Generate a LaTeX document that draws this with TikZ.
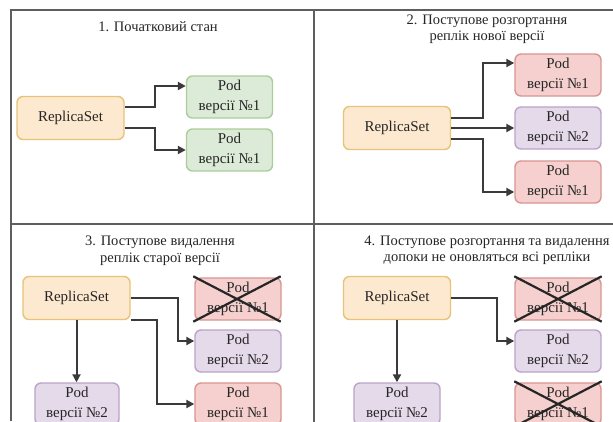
\documentclass[tikz,border=0pt]{standalone}
\usepackage{fontspec}
\setmainfont{Liberation Serif}
\newfontfamily\labelfont{Liberation Serif}
\usetikzlibrary{arrows.meta,calc}

\definecolor{rsfill}{HTML}{FDE9CF}
\definecolor{rsdraw}{HTML}{E6C47A}
\definecolor{gfill}{HTML}{DCEBD7}
\definecolor{gdraw}{HTML}{ACCD9B}
\definecolor{rfill}{HTML}{F5D0CE}
\definecolor{rdraw}{HTML}{D99591}
\definecolor{pfill}{HTML}{E5DAEA}
\definecolor{pdraw}{HTML}{BBA3C9}
\definecolor{framecol}{HTML}{5E5E5E}
\definecolor{txt}{HTML}{262626}
\definecolor{linecol}{HTML}{3A3A3A}

\tikzset{
  box/.style={draw, line width=1.4pt, rounded corners=6pt, align=center,
    font=\labelfont\fontsize{15}{20}\selectfont, text=txt, inner sep=0pt},
  rsbox/.style={box, fill=rsfill, draw=rsdraw, minimum width=107pt, minimum height=43pt},
  podbox/.style={box, minimum width=86pt, minimum height=42pt},
  podold/.style={podbox, fill=gfill, draw=gdraw},
  podred/.style={podbox, fill=rfill, draw=rdraw},
  podnew/.style={podbox, fill=pfill, draw=pdraw},
  title/.style={align=center, font=\labelfont\fontsize{14.5}{16.5}\selectfont, text=txt, inner sep=0pt},
  frame/.style={draw=framecol, line width=2pt},
  arr/.style={draw=linecol, line width=2pt, -{Triangle[length=8pt,width=8pt]}},
  crossline/.style={draw=black!85, line width=2.2pt}
}

\begin{document}
\begin{tikzpicture}[x=1pt,y=-1pt]
\useasboundingbox (0,0) rectangle (613,421);
\clip (0,0) rectangle (613,421);
\fill[white] (0,0) rectangle (613,421);

% frame and quadrant dividers
\draw[frame] (11,421) -- (11,10) -- (615,10);
\draw[frame] (314,10) -- (314,423);
\draw[frame] (11,224) -- (615,224);

% 1. initial state
\node[title] (t1) at (158,27) {1. Початковий стан};
\node[rsbox] (rs1) at (70.5,118) {ReplicaSet};
\node[podold] (p11) at (229.5,97) {Pod\\версії №1};
\node[podold] (p12) at (229.5,150) {Pod\\версії №1};
\draw[arr] ($(rs1.east)+(0,-11)$) -- ++(30,0) |- ($(p11.west)+(0,-11)$);
\draw[arr] ($(rs1.east)+(0,10)$) -- ++(30,0) |- (p12.west);

% 2. rolling out new replicas
\node[title] (t2) at (487,29) {2. Поступове розгортання\\реплік нової версії};
\node[rsbox] (rs2) at (397,128) {ReplicaSet};
\node[podred] (p21) at (558,75) {Pod\\версії №1};
\node[podnew] (p22) at (558,128) {Pod\\версії №2};
\node[podred] (p23) at (558,182) {Pod\\версії №1};
\draw[arr] ($(rs2.east)+(0,-10)$) -- ++(32,0) |- ($(p21.west)+(0,-12)$);
\draw[arr] (rs2.east) -- (p22.west);
\draw[arr] ($(rs2.east)+(0,11)$) -- ++(32,0) |- ($(p23.west)+(0,10)$);

% 3. removing old replicas
\node[title] (t3) at (160,250.5) {3. Поступове видалення\\реплік старої версії};
\node[rsbox] (rs3) at (76.5,298) {ReplicaSet};
\node[podred] (x31) at (238,299) {Pod\\версії №1};
\node[podnew] (p32) at (238,351) {Pod\\версії №2};
\node[podred] (p33) at (238,404) {Pod\\версії №1};
\node[podnew, minimum width=84pt] (p34) at (77,404) {Pod\\версії №2};
\draw[crossline] ($(x31.north west)+(-1,-1)$) -- ($(x31.south east)+(-1,1)$);
\draw[crossline] ($(x31.south west)+(-1,1)$) -- ($(x31.north east)+(-1,-1)$);
\draw[arr] (rs3.east) -- ++(47,0) |- ($(p32.west)+(0,-10)$);
\draw[arr] ($(rs3.south east)+(0,-0.5)$) -- ++(26,0) |- (p33.west);
\draw[arr] (rs3.south) -- (rs3.south |- p34.north);

% 4. until all replicas are updated
\node[title] (t4) at (487,250.5) {4. Поступове розгортання та видалення\\допоки не оновляться всі репліки};
\node[rsbox] (rs4) at (397,298) {ReplicaSet};
\node[podred] (x41) at (558,299) {Pod\\версії №1};
\node[podnew] (p42) at (558,351) {Pod\\версії №2};
\node[podred] (x43) at (558,404) {Pod\\версії №1};
\node[podnew] (p44) at (397,404) {Pod\\версії №2};
\draw[crossline] ($(x41.north west)+(0,-1)$) -- ($(x41.south east)+(0,1)$);
\draw[crossline] ($(x41.south west)+(0,1)$) -- ($(x41.north east)+(0,-1)$);
\draw[crossline] ($(x43.north west)+(0,-1)$) -- ($(x43.south east)+(0,1)$);
\draw[crossline] ($(x43.south west)+(0,1)$) -- ($(x43.north east)+(0,-1)$);
\draw[arr] (rs4.east) -- ++(46,0) |- ($(p42.west)+(0,-10)$);
\draw[arr] (rs4.south) -- (rs4.south |- p44.north);
\end{tikzpicture}
\end{document}
